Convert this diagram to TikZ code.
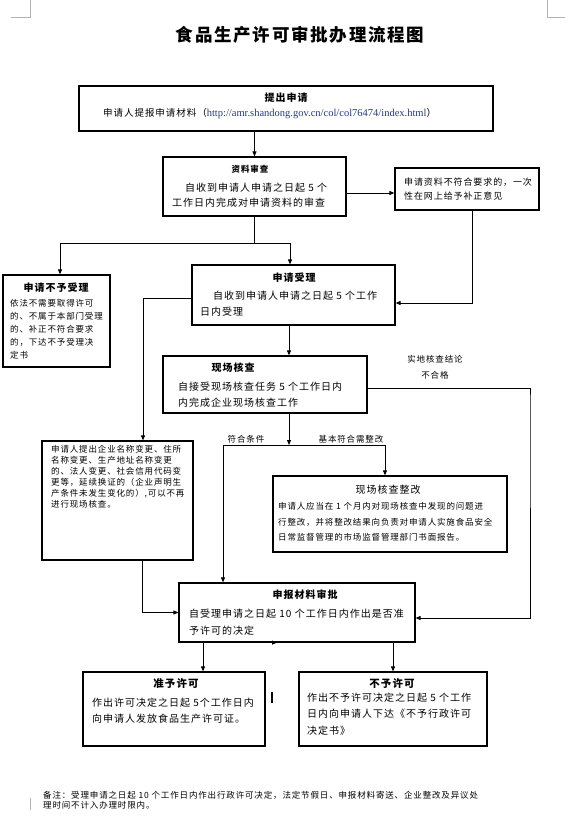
\documentclass[tikz,border=0pt]{standalone}
\usepackage{fontspec}
\usepackage{tikz}
\usetikzlibrary{arrows.meta}
\setmainfont{Noto Sans CJK SC}[LetterSpace=10]
\newfontfamily\urlfont{Liberation Serif}
\definecolor{urlblue}{RGB}{35,55,140}
\newcommand{\setfs}[2]{\fontsize{#1}{#2}\selectfont}

\begin{document}
\begin{tikzpicture}[x=1pt, y=-1pt,
		box/.style={draw, line width=1.2pt, inner sep=0pt},
		head/.style={inner sep=0pt, font=\setfs{10}{12}\bfseries},
		body/.style={anchor=north west, inner sep=0pt, align=left},
		note/.style={inner sep=0pt, font=\setfs{8.5}{10}},
		arr/.style={line width=0.9pt, -{Triangle[length=5pt, width=4pt]}}]

		\useasboundingbox (0, 0) rectangle (583, 824);
		\draw[gray!60] (11, 17) -- (30, 17) -- (30, 0);
		\draw[gray!60] (547, 0) -- (547, 17) -- (565, 17);
		\draw[gray!60] (30, 798) -- (30, 810);

		\draw (300, 35) 	node[inner sep=0pt, font=\setfs{17.5}{20}\bfseries] 	(title) 	{食品生产许可审批办理流程图};

		\draw (286, 108.5) 	node[box, minimum width=414, minimum height=45] 	(submit) 	{};
		\draw (117.5, 500.5) 	node[box, minimum width=151, minimum height=119] 	(exempt) 	{};
		\draw (254.5, 186.5) 	node[box, minimum width=183, minimum height=59] 	(review) 	{};
		\draw (467, 189) 	node[box, minimum width=144, minimum height=42] 	(correct) 	{};
		\draw (56.5, 321) 	node[box, minimum width=107, minimum height=92] 	(reject) 	{};
		\draw (293.5, 295) 	node[box, minimum width=203, minimum height=60] 	(accept) 	{};
		\draw (265, 384.5) 	node[box, minimum width=204, minimum height=57] 	(inspect) 	{};
		\draw (390, 514) 	node[box, minimum width=234, minimum height=76] 	(rectify) 	{};
		\draw (297, 612.5) 	node[box, minimum width=236, minimum height=59] 	(approve) 	{};
		\draw (174, 709) 	node[box, minimum width=182, minimum height=74] 	(grant) 	{};
		\draw (393, 709) 	node[box, minimum width=188, minimum height=74] 	(deny) 		{};

		\draw (286, 98) 	node[head] 	(submit_h) 	{提出申请};
		\draw (103, 114) 	node[anchor=west, inner sep=0pt, font=\setfs{9.5}{12}] 	(submit_t) 	{申请人提报申请材料（{\urlfont\setfs{10.5}{12}\color{urlblue}http://amr.shandong.gov.cn/col/col76474/index.html}）};
		\draw (250, 169) 	node[head, font=\setfs{8.5}{10}\bfseries] 	(review_h) 	{资料审查};
		\draw (172, 182.4) 	node[body, font=\setfs{10}{15}] 	(review_t) 	{\hspace*{13pt}自收到申请人申请之日起 5 个\\工作日内完成对申请资料的审查};
		\draw (404, 177.9) 	node[body, font=\setfs{9}{14}] 	(correct_t) 	{申请资料不符合要求的，一次\\性在网上给予补正意见};
		\draw (56, 288) 	node[head] 	(reject_h) 	{申请不予受理};
		\draw (10, 299.4) 	node[body, font=\setfs{8.5}{13}] 	(reject_t) 	{依法不需要取得许可\\的、不属于本部门受理\\的、补正不符合要求\\的，下达不予受理决\\定书};
		\draw (294, 278) 	node[head] 	(accept_h) 	{申请受理};
		\draw (200, 290.4) 	node[body, font=\setfs{10}{16}] 	(accept_t) 	{\hspace*{13pt}自收到申请人申请之日起 5 个工作\\日内受理};
		\draw (233, 368) 	node[head] 	(inspect_h) 	{现场核查};
		\draw (178, 381.4) 	node[body, font=\setfs{10}{16}] 	(inspect_t) 	{自接受现场核查任务 5 个工作日内\\内完成企业现场核查工作};
		\draw (51, 445.1) 	node[body, font=\setfs{8.5}{11}] 	(exempt_t) 	{申请人提出企业名称变更、住所\\名称变更、生产地址名称变更\\的、法人变更、社会信用代码变\\更等，延续换证的（企业声明生\\产条件未发生变化的）,可以不再\\进行现场核查。};
		\draw (388, 490) 	node[head, font=\setfs{10}{12}] 	(rectify_h) 	{现场核查整改};
		\draw (278, 502.1) 	node[body, font=\setfs{8.5}{15.5}] 	(rectify_t) 	{申请人应当在 1 个月内对现场核查中发现的问题进\\行整改，并将整改结果向负责对申请人实施食品安全\\日常监督管理的市场监督管理部门书面报告。};
		\draw (305, 595) 	node[head] 	(approve_h) 	{申报材料审批};
		\draw (189, 608.4) 	node[body, font=\setfs{10}{17}] 	(approve_t) 	{自受理申请之日起 10 个工作日内作出是否准\\予许可的决定};
		\draw (176, 684) 	node[head, font=\setfs{10.5}{12}\bfseries] 	(grant_h) 	{准予许可};
		\draw (92, 697.4) 	node[body, font=\setfs{10}{16}] 	(grant_t) 	{作出许可决定之日起 5个工作日内\\向申请人发放食品生产许可证。};
		\draw (392, 684) 	node[head, font=\setfs{10.5}{12}\bfseries] 	(deny_h) 	{不予许可};
		\draw (307, 692.4) 	node[body, font=\setfs{10}{16.5}] 	(deny_t) 	{作出不予许可决定之日起 5 个工作\\日内向申请人下达《不予行政许可\\决定书》};

		\draw (435, 367) 	node[note, align=center, font=\setfs{8.5}{16}] 	(fail_l) 	{实地核查结论\\不合格};
		\draw (246, 439) 	node[note] 	(pass_l) 	{符合条件};
		\draw (351, 439) 	node[note] 	(fix_l) 	{基本符合需整改};
		\draw (43, 791.1) 	node[body, font=\setfs{8.5}{10}] 	(remark) 	{备注：受理申请之日起 10 个工作日内作出行政许可决定，法定节假日、申报材料寄送、企业整改及异议处\\理时间不计入办理时限内。};

		\coordinate (fork1) at ([yshift=-27pt]review.south);
		\coordinate (fork2) at (289, 445);
		\coordinate (rline) at (530, 400);

		\draw[arr] (review.north |- submit.south) -- (review.north);
		\draw[arr] ([yshift=-6.5pt]review.east) -- ([yshift=-6.5pt]review.east -| correct.west);
		\draw[arr] ([xshift=5pt]correct.south) |- ([yshift=-8pt]accept.east);
		\draw[line width=0.9pt] (review.south) -- (fork1);
		\draw[arr] (fork1) -| ([xshift=3.5pt]reject.north);
		\draw[arr] (fork1) -| ([xshift=-3.5pt]accept.north);
		\draw[arr] ([yshift=-3pt]accept.west) -| ([xshift=25.5pt]exempt.north);
		\draw[arr] ([xshift=-4.5pt]accept.south) -- ([xshift=-4.5pt]accept.south |- inspect.north);
		\draw[arr] ([yshift=-3.5pt]inspect.east) -| (rline) |- ([yshift=-5.5pt]approve.east);
		\draw[arr] (inspect.south -| fork2) -- (fork2);
		\draw[arr] (fork2) -| ([xshift=-5pt]rectify.north);
		\draw[arr] (fork2) -| ([xshift=-74pt]approve.north);
		\draw[arr] ([xshift=24.5pt]exempt.south) |- (approve.west);
		\draw[arr] ([xshift=29pt]grant.north |- approve.south) -- ([xshift=29pt]grant.north);
		\draw[arr] (deny.north |- approve.south) -- (deny.north);
		\draw[arr] ([xshift=-28pt]approve.south) -- ([xshift=-20pt]approve.south);
		\draw[line width=2pt] (272, 692) -- (272, 703);
\end{tikzpicture}
\end{document}
